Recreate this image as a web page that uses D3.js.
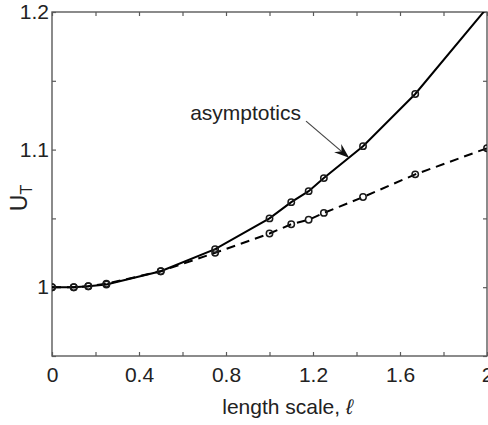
<!DOCTYPE html>
<html>
<head>
<meta charset="utf-8">
<script src="https://cdn.jsdelivr.net/npm/d3@7"></script>
<style>
  body { margin: 0; background: #fff; }
  text { font-family: "Liberation Sans", Arial, sans-serif; fill: #222; }
</style>
</head>
<body>
<script>
// length scale values where the curves were sampled
const ell = [0, 0.1, 0.167, 0.25, 0.5, 0.75, 1.0, 1.1, 1.18, 1.25, 1.43, 1.67, 2.0];
// solid curve (asymptotics)
const uAsym = [1.0, 1.0, 1.0007, 1.002, 1.0116, 1.0276, 1.050, 1.0618, 1.0698, 1.0793, 1.1025, 1.1404, 1.203];
// dashed curve
const uNum = [1.0, 1.0, 1.0007, 1.0025, 1.0116, 1.025, 1.039, 1.0458, 1.049, 1.054, 1.0655, 1.082, 1.101];

const xTicks = [0, 0.2, 0.4, 0.6, 0.8, 1, 1.2, 1.4, 1.6, 1.8, 2];
const xLabels = [0, 0.4, 0.8, 1.2, 1.6, 2];
const yTicks = [0.95, 1, 1.05, 1.1, 1.15, 1.2];
const yLabels = [1, 1.1, 1.2];

const width = 488, height = 425;
const margin = {top: 12, right: 1, bottom: 69, left: 52};

const x = d3.scaleLinear().domain([0, 2]).range([margin.left, width - margin.right]);
const y = d3.scaleLinear().domain([0.95, 1.2]).range([height - margin.bottom, margin.top]);

const svg = d3.select("body").append("svg")
    .attr("width", width)
    .attr("height", height);

svg.append("clipPath").attr("id", "plot")
  .append("rect")
    .attr("x", x(0)).attr("y", y(1.2))
    .attr("width", x(2) - x(0)).attr("height", y(0.95) - y(1.2));

const fmt = list => d => list.some(v => Math.abs(v - d) < 1e-9) ? d3.format("")(+d.toFixed(2)) : "";

const axisColor = "#5a5a5a";
const styleAxis = g => {
  g.select(".domain").remove();
  g.selectAll(".tick line").attr("stroke", axisColor).attr("stroke-width", 1.2);
  g.selectAll(".tick text").attr("font-size", 21).attr("fill", "#222");
};

// bottom axis, ticks inward
svg.append("g")
    .attr("transform", `translate(0,${y(0.95)})`)
    .call(d3.axisBottom(x).tickValues(xTicks).tickSize(-4).tickPadding(11).tickFormat(fmt(xLabels)))
    .call(styleAxis);

// left axis
svg.append("g")
    .attr("transform", `translate(${x(0)},0)`)
    .call(d3.axisLeft(y).tickValues(yTicks).tickSize(-4).tickPadding(3).tickFormat(fmt(yLabels)))
    .call(styleAxis);

// top and right: ticks only
svg.append("g")
    .attr("transform", `translate(0,${y(1.2)})`)
    .call(d3.axisTop(x).tickValues(xTicks).tickSize(-4).tickFormat(""))
    .call(styleAxis);
svg.append("g")
    .attr("transform", `translate(${x(2)},0)`)
    .call(d3.axisRight(y).tickValues(yTicks).tickSize(-4).tickFormat(""))
    .call(styleAxis);

// box
svg.append("rect")
    .attr("x", x(0)).attr("y", y(1.2))
    .attr("width", x(2) - x(0)).attr("height", y(0.95) - y(1.2))
    .attr("fill", "none")
    .attr("stroke", axisColor)
    .attr("stroke-width", 1.4);

const line = d3.line().x(d => x(d[0])).y(d => y(d[1]));
const asym = ell.map((l, i) => [l, uAsym[i]]);
const num = ell.map((l, i) => [l, uNum[i]]);

const curves = svg.append("g").attr("clip-path", "url(#plot)");

curves.append("path")
    .datum(num)
    .attr("fill", "none")
    .attr("stroke", "#000")
    .attr("stroke-width", 2)
    .attr("stroke-dasharray", "9,6")
    .attr("d", line);

curves.append("path")
    .datum(asym)
    .attr("fill", "none")
    .attr("stroke", "#000")
    .attr("stroke-width", 2)
    .attr("d", line);

[num, asym].forEach(series => {
  curves.append("g")
    .selectAll("circle")
    .data(series)
    .join("circle")
      .attr("cx", d => x(d[0]))
      .attr("cy", d => y(d[1]))
      .attr("r", 3.2)
      .attr("fill", "none")
      .attr("stroke", "#1a1a1a")
      .attr("stroke-width", 1.5);
});

// annotation
const labelPos = [1.145, 1.1215];
const arrowFrom = [1.168, 1.1207];
const arrowTo = [1.366, 1.094];

svg.append("text")
    .attr("x", x(labelPos[0]))
    .attr("y", y(labelPos[1]))
    .attr("text-anchor", "end")
    .attr("font-size", 21)
    .text("asymptotics");

{
  const x0 = x(arrowFrom[0]), y0 = y(arrowFrom[1]);
  const x1 = x(arrowTo[0]), y1 = y(arrowTo[1]);
  const a = Math.atan2(y1 - y0, x1 - x0);
  const len = 15, half = 5.5, back = 10;
  const bx = x1 - back * Math.cos(a), by = y1 - back * Math.sin(a);
  svg.append("line")
      .attr("x1", x0).attr("y1", y0)
      .attr("x2", bx).attr("y2", by)
      .attr("stroke", "#444")
      .attr("stroke-width", 1.2);
  const px = x1 - len * Math.cos(a), py = y1 - len * Math.sin(a);
  const nx = -Math.sin(a) * half, ny = Math.cos(a) * half;
  svg.append("path")
      .attr("d", `M${x1},${y1}L${px + nx},${py + ny}L${bx},${by}L${px - nx},${py - ny}Z`)
      .attr("fill", "#111");
}

// axis titles
const xt = svg.append("text")
    .attr("x", (x(0) + x(2)) / 2 + 18)
    .attr("y", 414)
    .attr("text-anchor", "middle")
    .attr("font-size", 21);
xt.append("tspan").text("length scale, ");
xt.append("tspan").attr("font-style", "italic").text("\u2113");

const yt = svg.append("text")
    .attr("transform", `translate(27,198) rotate(-90)`)
    .attr("text-anchor", "middle")
    .attr("font-size", 23);
yt.append("tspan").text("U");
yt.append("tspan").attr("baseline-shift", "-30%").attr("font-size", 16).text("T");
</script>
</body>
</html>
